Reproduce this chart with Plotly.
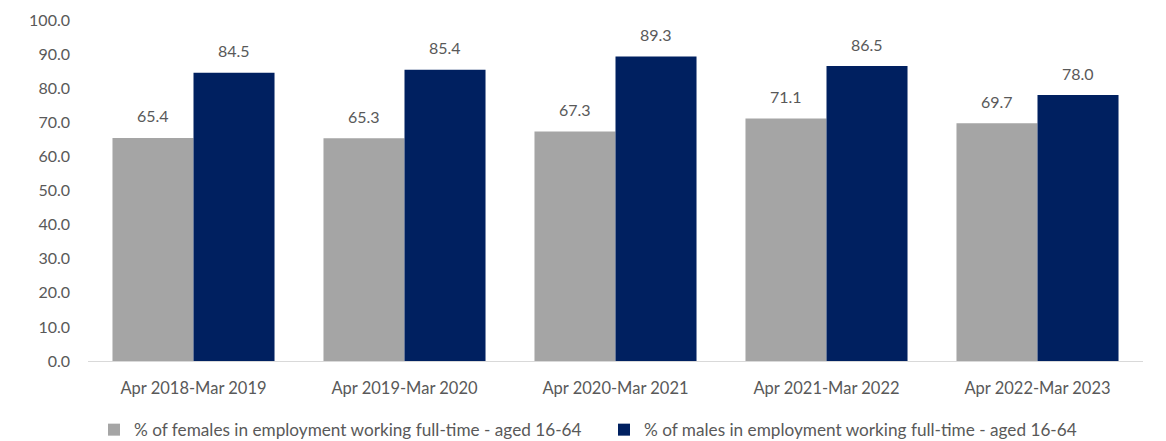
import plotly.graph_objects as go

periods = ["Apr 2018-Mar 2019", "Apr 2019-Mar 2020", "Apr 2020-Mar 2021",
           "Apr 2021-Mar 2022", "Apr 2022-Mar 2023"]
females = [65.4, 65.3, 67.3, 71.1, 69.7]
males = [84.5, 85.4, 89.3, 86.5, 78.0]
y_ticks = [0, 10, 20, 30, 40, 50, 60, 70, 80, 90, 100]

FONT = "Lato, 'Open Sans', sans-serif"
TEXT = "#595959"
GREY = "#a5a5a5"
NAVY = "#002060"

fig = go.Figure()
fig.add_trace(go.Bar(x=periods, y=females, marker=dict(color=GREY, line=dict(width=0)),
                     name="% of females in employment working full-time - aged 16-64",
                     legend="legend"))
fig.add_trace(go.Bar(x=periods, y=males, marker=dict(color=NAVY, line=dict(width=0)),
                     name="% of males in employment working full-time - aged 16-64",
                     legend="legend2"))

# value labels above each bar
for series, shift in ((females, -40.5), (males, 40.5)):
    for p, v in zip(periods, series):
        fig.add_annotation(x=p, y=v, text=f"{v:.1f}", showarrow=False,
                           xshift=shift, yshift=22, yanchor="middle",
                           font=dict(family=FONT, size=16, color=TEXT))

legend_common = dict(orientation="h", xanchor="left", xref="container",
                     yref="container", y=0.025, yanchor="middle", itemwidth=30,
                     bgcolor="rgba(0,0,0,0)",
                     font=dict(family=FONT, size=17.2, color=TEXT))

fig.update_layout(
    width=1166, height=441,
    margin=dict(l=88, r=23, t=20, b=80, autoexpand=False),
    paper_bgcolor="white", plot_bgcolor="white",
    barmode="group", bargap=0.232, bargroupgap=0,
    font=dict(family=FONT, size=16, color=TEXT),
    showlegend=True,
    legend=dict(x=94 / 1166, **legend_common),
    legend2=dict(x=604 / 1166, **legend_common),
)
fig.update_xaxes(showgrid=False, showline=True, linecolor="#d9d9d9", linewidth=1,
                 ticks="", ticklabelstandoff=12,
                 tickfont=dict(family=FONT, size=16.5, color=TEXT))
fig.update_yaxes(range=[0, 100], tickvals=y_ticks,
                 ticktext=[f"{t:.1f}" for t in y_ticks],
                 showgrid=False, zeroline=False, showline=False, ticks="",
                 ticklabelstandoff=17,
                 tickfont=dict(family=FONT, size=16, color=TEXT))

fig.write_html("out.html")
